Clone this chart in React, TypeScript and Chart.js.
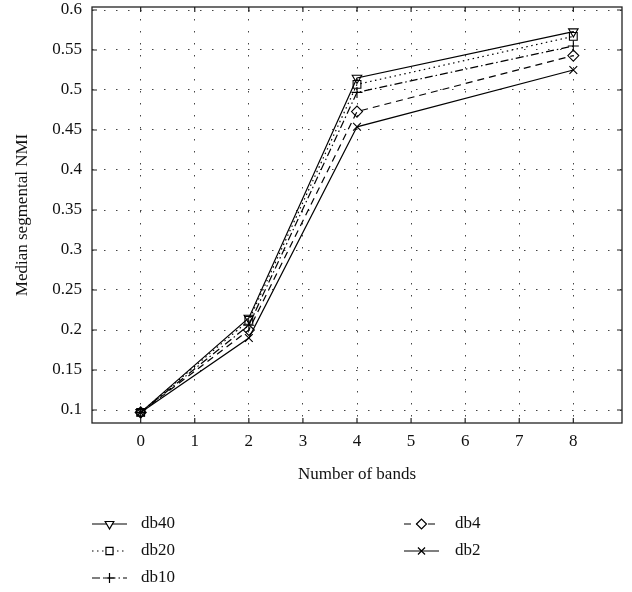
import React, { useEffect, useRef } from "react";
import { Chart, registerables } from "chart.js";
import { drawPoint } from "chart.js/helpers";

Chart.register(...registerables);

const bands = [0, 2, 4, 8];
const db40 = [0.097, 0.215, 0.515, 0.573];
const db20 = [0.097, 0.212, 0.507, 0.567];
const db10 = [0.097, 0.206, 0.497, 0.555];
const db4 = [0.097, 0.2, 0.473, 0.543];
const db2 = [0.097, 0.19, 0.454, 0.525];
const xTicks = [0, 1, 2, 3, 4, 5, 6, 7, 8];
const yTicks = [0.1, 0.15, 0.2, 0.25, 0.3, 0.35, 0.4, 0.45, 0.5, 0.55, 0.6];

const FONT = "'Liberation Serif', 'Times New Roman', serif";

type Series = { label: string; values: number[]; dash: number[]; style: string; rot: number };
const seriesList: Series[] = [
  { label: "db40", values: db40, dash: [], style: "triangle", rot: 180 },
  { label: "db20", values: db20, dash: [1.5, 3.5], style: "rect", rot: 0 },
  { label: "db10", values: db10, dash: [8, 3, 1.5, 3], style: "cross", rot: 0 },
  { label: "db4", values: db4, dash: [7, 5], style: "rectRot", rot: 0 },
  { label: "db2", values: db2, dash: [], style: "crossRot", rot: 0 },
];

const boxPlugin = {
  id: "boxPlugin",
  afterDraw(chart: any) {
    const { ctx, chartArea: a, scales } = chart;
    ctx.save();
    ctx.strokeStyle = "#222";
    ctx.lineWidth = 1.3;
    ctx.setLineDash([]);
    ctx.strokeRect(a.left, a.top, a.right - a.left, a.bottom - a.top);
    ctx.lineWidth = 1.2;
    const tl = 5;
    scales.x.ticks.forEach((t: any) => {
      const px = scales.x.getPixelForValue(t.value);
      ctx.beginPath();
      ctx.moveTo(px, a.bottom);
      ctx.lineTo(px, a.bottom - tl);
      ctx.moveTo(px, a.top);
      ctx.lineTo(px, a.top + tl);
      ctx.stroke();
    });
    scales.y.ticks.forEach((t: any) => {
      const py = scales.y.getPixelForValue(t.value);
      ctx.beginPath();
      ctx.moveTo(a.left, py);
      ctx.lineTo(a.left + tl, py);
      ctx.moveTo(a.right, py);
      ctx.lineTo(a.right - tl, py);
      ctx.stroke();
    });

    // legend
    const cols = [
      { x0: 92, x1: 127, tx: 141 },
      { x0: 404, x1: 439, tx: 455 },
    ];
    const rowsY = [524, 551, 578];
    const places = [
      [0, 0],
      [0, 1],
      [0, 2],
      [1, 0],
      [1, 1],
    ];
    chart.data.datasets.forEach((ds: any, i: number) => {
      const [c, r] = places[i];
      const col = cols[c];
      const y = rowsY[r];
      ctx.save();
      ctx.strokeStyle = "#000";
      ctx.lineWidth = 1.2;
      ctx.setLineDash(ds.borderDash || []);
      ctx.beginPath();
      ctx.moveTo(col.x0, y);
      ctx.lineTo(col.x1, y);
      ctx.stroke();
      ctx.setLineDash([]);
      ctx.fillStyle = "#fff";
      ctx.strokeStyle = "#000";
      ctx.lineWidth = 1.2;
      drawPoint(ctx, { pointStyle: ds.pointStyle, radius: 5, rotation: ds.pointRotation, borderWidth: 1.2 } as any, (col.x0 + col.x1) / 2, y);
      ctx.restore();
      ctx.fillStyle = "#111";
      ctx.font = `17px ${FONT}`;
      ctx.textBaseline = "middle";
      ctx.textAlign = "left";
      ctx.fillText(ds.label, col.tx, y);
    });
    ctx.restore();
  },
};

export default function App() {
  const ref = useRef<HTMLCanvasElement>(null);
  useEffect(() => {
    if (!ref.current) return;
    const chart = new Chart(ref.current, {
      type: "line",
      data: {
        datasets: seriesList.map((s) => ({
          label: s.label,
          data: bands.map((b, i) => ({ x: b, y: s.values[i] })),
          borderColor: "#000",
          backgroundColor: "transparent",
          borderWidth: 1.2,
          borderDash: s.dash,
          pointStyle: s.style as any,
          pointRotation: s.rot,
          pointRadius: 5.5,
          pointBorderWidth: 1.1,
          pointBorderColor: "#000",
          pointBackgroundColor: "transparent",
          tension: 0,
        })),
      },
      options: {
        animation: false,
        responsive: false,
        devicePixelRatio: 1,
        layout: { padding: { left: 0, top: 7, right: 10, bottom: 107 } },
        plugins: { legend: { display: false }, tooltip: { enabled: false } },
        scales: {
          x: {
            type: "linear",
            min: -0.9,
            max: 8.9,
            afterBuildTicks: (scale: any) => {
              scale.ticks = xTicks.map((v) => ({ value: v }));
            },
            afterFit: (scale: any) => {
              scale.height = 62;
              scale.paddingLeft = 0;
              scale.paddingRight = 0;
            },
            grid: { color: "#444", lineWidth: 1, drawTicks: false },
            border: { display: false, dash: [1.5, 10.5] },
            ticks: {
              color: "#111",
              padding: 8,
              font: { family: FONT, size: 17 },
              callback: (v: any) => String(v),
            },
            title: {
              display: true,
              text: "Number of bands",
              color: "#111",
              font: { family: FONT, size: 17 },
              padding: { top: 0, bottom: 0 },
            },
          },
          y: {
            type: "linear",
            min: 0.08375,
            max: 0.60375,
            afterBuildTicks: (scale: any) => {
              scale.ticks = yTicks.map((v) => ({ value: v }));
            },
            afterFit: (scale: any) => {
              scale.width = 92;
              scale.paddingTop = 0;
              scale.paddingBottom = 0;
            },
            grid: { color: "#444", lineWidth: 1, drawTicks: false },
            border: { display: false, dash: [1.5, 10.5] },
            ticks: {
              color: "#111",
              padding: 10,
              font: { family: FONT, size: 17 },
              callback: (v: any) => String(Number(Number(v).toFixed(2))),
            },
            title: {
              display: true,
              text: "Median segmental NMI",
              color: "#111",
              font: { family: FONT, size: 17 },
              padding: { top: 12, bottom: 0 },
            },
          },
        },
      },
      plugins: [boxPlugin],
    });
    return () => chart.destroy();
  }, []);
  return (
    <div style={{ position: "absolute", left: 0, top: 0, width: 632, height: 592, background: "#fff" }}>
      <canvas ref={ref} width={632} height={592} style={{ width: 632, height: 592 }} />
    </div>
  );
}
